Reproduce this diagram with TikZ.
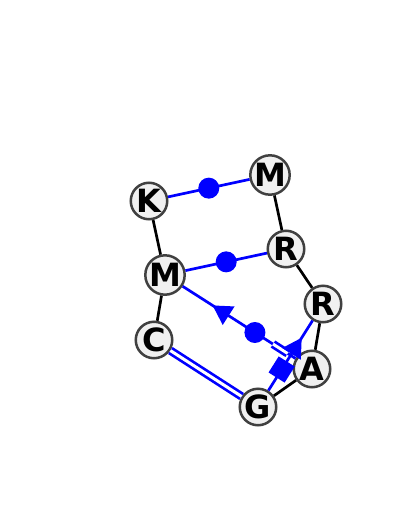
\documentclass[tikz,border=0pt]{standalone}
\usepackage{fontspec}
\setmainfont{DejaVu Sans}
\usetikzlibrary{shapes.geometric}

\begin{document}
\begin{tikzpicture}[x=1pt,y=-1pt]
\tikzstyle{base}=[draw=black!75,fill=black!6,shape=circle,line width=2.5pt,minimum size=36.5pt,inner sep=0pt,font=\fontsize{32}{32}\selectfont\bfseries]
\tikzstyle{bb}=[line width=2.7pt,black]
\tikzstyle{bp}=[line width=2.7pt,blue]
\tikzstyle{dot}=[circle,fill=blue,inner sep=0pt,minimum size=21pt]
\tikzstyle{tri}=[isosceles triangle,fill=blue,inner sep=0pt,minimum height=19pt,minimum width=17pt,isosceles triangle apex angle=60,sloped]
\tikzstyle{sq}=[rectangle,fill=blue,inner sep=0pt,minimum size=19pt,sloped]
\useasboundingbox (0,0) rectangle (400,509);
\path (149,201) node[base](K){K} (270,175) node[base](M1){M}
      (286,249) node[base](R1){R} (165,275) node[base](M2){M}
      (323,304) node[base](R2){R} (154,340) node[base](C){C}
      (312,369) node[base](A){A} (258,407) node[base](G){G};
% backbone
\draw[bb] (K) -- (M2);
\draw[bb] (M2) -- (C);
\draw[bb] (M1) -- (R1);
\draw[bb] (R1) -- (R2);
\draw[bb] (R2) -- (A);
\draw[bb] (A) -- (G);
% pairs
\draw[bp] (K) -- node[dot]{} (M1);
\draw[bp] (M2) -- node[dot]{} (R1);
\draw[bp,double=white,double distance=3pt] (C) -- (G);
\draw[bp] (M2) -- node[pos=0.36,tri,shape border rotate=180]{} node[pos=0.64,dot]{} (A);
\path (M2) -- coordinate[pos=0.8](ma1) coordinate[pos=0.93](ma2) (A);
\draw[bp,double=white,double distance=3pt] (ma1) -- (ma2);
\draw[bp] (G) -- node[pos=0.3,sq]{} node[pos=0.6,tri]{} (R2);
\end{tikzpicture}
\end{document}
